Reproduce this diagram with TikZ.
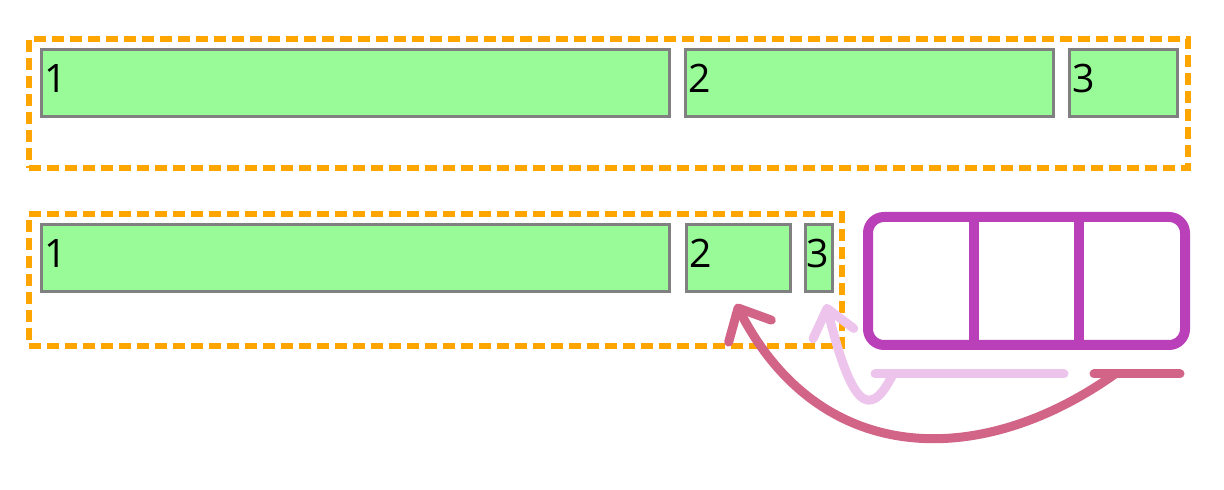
\documentclass[tikz,border=0pt]{standalone}
\usepackage{fontspec}
\setmainfont{Open Sans}
\usetikzlibrary{arrows.meta,calc}

\definecolor{boxgreen}{RGB}{152,251,152}
\definecolor{flexorange}{RGB}{255,165,0}
\definecolor{slotpurple}{RGB}{185,64,185}
\definecolor{lightpink}{RGB}{237,196,235}
\definecolor{darkpink}{RGB}{210,100,136}

\begin{document}
\begin{tikzpicture}[x = 0.5pt, y = -0.5pt,
        every node/.style = {outer sep = 0pt},
        container/.style = {draw = flexorange, line width = 3pt,
            dash pattern = on 6pt off 3pt, anchor = north west, inner sep = 0pt},
        item/.style = {draw = gray, fill = boxgreen, line width = 1.5pt,
            anchor = north west, inner sep = 0pt, minimum height = 33.5pt},
        num/.style = {anchor = base west, inner sep = 0pt,
            font = \fontsize{19.6}{20}\selectfont},
        stroke/.style = {line width = 4.5pt, line cap = round, line join = round}
    ]

        \useasboundingbox (0, 0) rectangle (1224, 490);

        % Top container, all three items fit.
        \node[container, minimum width = 579.5pt, minimum height = 64.5pt] (top) at (29, 39) {};
        \node[item, minimum width = 314pt] (top1) at (41, 50) {};
        \node[item, minimum width = 184pt] (top2) at (685, 50) {};
        \node[item, minimum width = 54pt] (top3) at (1069, 50) {};
        \node[num] (toplbl1) at ([shift = {(3, 43)}] top1.north west) {1};
        \node[num] (toplbl2) at ([shift = {(3, 43)}] top2.north west) {2};
        \node[num] (toplbl3) at ([shift = {(3, 43)}] top3.north west) {3};

        % Bottom container, items 2 and 3 squeezed.
        \node[container, minimum width = 406.5pt, minimum height = 66pt] (bot) at (29, 214) {};
        \node[item, minimum width = 314pt] (bot1) at (41, 225) {};
        \node[item, minimum width = 52pt] (bot2) at (686, 225) {};
        \node[item, minimum width = 13.5pt] (bot3) at (805, 225) {};
        \node[num] (botlbl1) at ([shift = {(3, 43)}] bot1.north west) {1};
        \node[num] (botlbl2) at ([shift = {(3, 43)}] bot2.north west) {2};
        \node[num] (botlbl3) at ([shift = {(1, 43)}] bot3.north west) {3};

        % Three free slots.
        \node[draw = slotpurple, line width = 5pt, rounded corners = 8pt,
            minimum width = 158.5pt, minimum height = 64pt,
            anchor = north west, inner sep = 0pt] (slots) at (868, 217) {};
        \begin{scope}[draw = slotpurple, line width = 5pt]
            \draw ($(slots.north west)!1/3!(slots.north east)$) -- ($(slots.south west)!1/3!(slots.south east)$);
            \draw ($(slots.north west)!2/3!(slots.north east)$) -- ($(slots.south west)!2/3!(slots.south east)$);
        \end{scope}

        % Space handed back to the items.
        \coordinate (lightleft) at (875, 374);
        \coordinate (lightright) at (1064, 374);
        \coordinate (lightfrom) at (893, 374);
        \coordinate (lighttip) at (826, 304);
        \coordinate (darkleft) at (1094, 374);
        \coordinate (darkright) at (1180, 374);
        \coordinate (darkfrom) at (1115, 374);
        \coordinate (darktip) at (736, 304);

        \begin{scope}[stroke]
            \draw[lightpink] (lightleft) -- (lightright);
            \draw[lightpink, -{Straight Barb[length = 13pt, width = 21pt, round]}]
                (lightfrom) .. controls (868, 425) and (850, 400) .. (lighttip);
            \draw[darkpink] (darkleft) -- (darkright);
            \draw[darkpink, -{Straight Barb[length = 13pt, width = 24pt, round]}]
                (darkfrom) .. controls (980, 470) and (820, 467) .. (darktip);
        \end{scope}
    \end{tikzpicture}
\end{document}
